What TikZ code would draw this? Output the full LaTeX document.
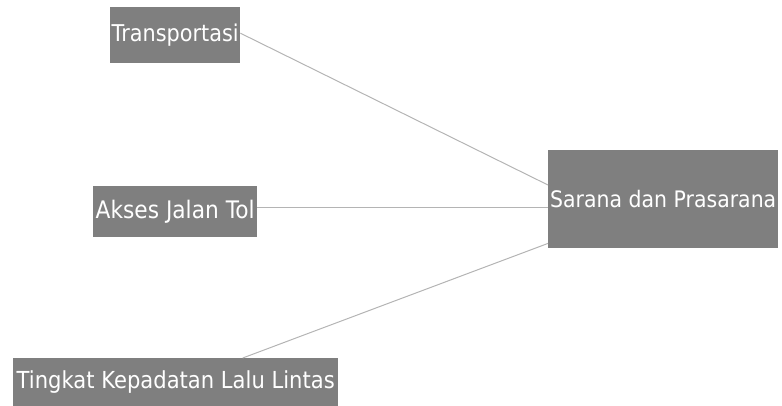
\documentclass[tikz,border=0pt]{standalone}
\usepackage{fontspec}
\usepackage{graphicx}
\setmainfont{DejaVu Sans}[FakeStretch=0.9]
\definecolor{boxgray}{HTML}{7F7F7F}
\definecolor{linegray}{HTML}{B4B4B4}
\newcommand{\fitw}[2]{\resizebox{#1}{!}{\fontsize{23}{25}\selectfont #2}}
\begin{document}
\begin{tikzpicture}[x=1pt,y=-1pt,
  box/.style={fill=boxgray,draw=none,inner sep=0pt,text=white,anchor=north west},
  link/.style={draw=linegray,line width=1pt}]
\useasboundingbox (0,0) rectangle (782,406);
\node[box,minimum width=130pt,minimum height=56pt] (T) at (110,7) {\fitw{127pt}{Transportasi}};
\node[box,minimum width=164pt,minimum height=51pt] (A) at (93,186) {\fitw{159pt}{Akses Jalan Tol}};
\node[box,minimum width=325pt,minimum height=48pt] (K) at (13,358) {\fitw{318pt}{Tingkat Kepadatan Lalu Lintas}};
\node[box,minimum width=230pt,minimum height=98pt] (S) at (548,150) {\fitw{226pt}{Sarana dan Prasarana}};
\coordinate (t1) at ([yshift=2pt]T.east);
\coordinate (s1) at ([yshift=-35pt]S.north west);
\coordinate (s2) at ([yshift=-58pt]S.north west);
\coordinate (a1) at (A.east |- s2);
\coordinate (k1) at ([xshift=67pt]K.north);
\coordinate (s3) at ([yshift=5pt]S.south west);
\draw[link] (t1) -- (s1);
\draw[link] (a1) -- (s2);
\draw[link] (k1) -- (s3);
\end{tikzpicture}
\end{document}
